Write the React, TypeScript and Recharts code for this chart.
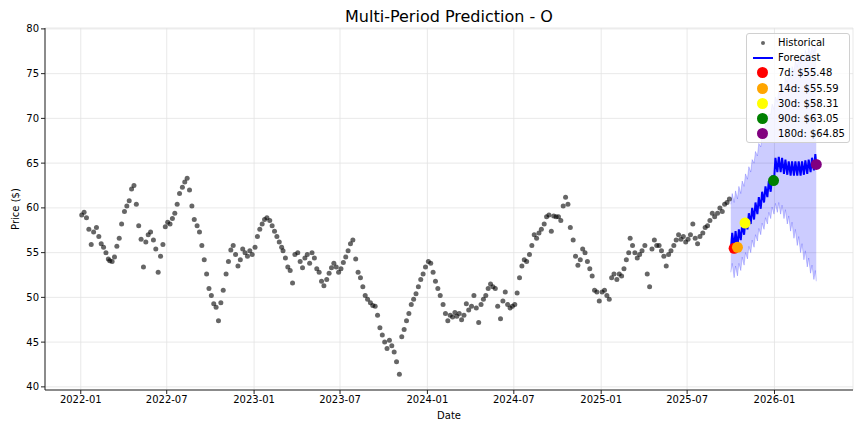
import React from "react";
import { ComposedChart, Scatter, Line, Area, XAxis, YAxis, CartesianGrid } from "recharts";

// historical closes, sampled on these days of each month
const histSampleDays = [3, 8, 13, 18, 23, 28];
const histMonths = [
  "2022-01", "2022-02", "2022-03", "2022-04", "2022-05", "2022-06", "2022-07", "2022-08", "2022-09", "2022-10", "2022-11", "2022-12",
  "2023-01", "2023-02", "2023-03", "2023-04", "2023-05", "2023-06", "2023-07", "2023-08", "2023-09", "2023-10", "2023-11", "2023-12",
  "2024-01", "2024-02", "2024-03", "2024-04", "2024-05", "2024-06", "2024-07", "2024-08", "2024-09", "2024-10", "2024-11", "2024-12",
  "2025-01", "2025-02", "2025-03", "2025-04", "2025-05", "2025-06", "2025-07", "2025-08", "2025-09",
];
const histValues = [
  [59.2, 59.5, 58.9, 57.6, 55.9, 57.3], [57.8, 56.8, 56.0, 55.6, 55.0, 54.3], [54.1, 54.0, 54.5, 55.7, 56.6, 58.2],
  [59.6, 60.2, 60.8, 62.1, 62.5, 60.4], [58.0, 56.5, 53.4, 56.2, 57.0, 57.3], [56.4, 55.4, 52.8, 54.6, 55.9, 57.9],
  [58.4, 58.2, 58.8, 59.4, 60.4, 61.6], [62.3, 62.9, 63.3, 62.0, 60.2, 58.7], [58.0, 57.3, 55.8, 54.2, 52.6, 51.0],
  [50.2, 49.3, 48.9, 47.4, 49.4, 50.8], [52.6, 54.0, 55.3, 55.8, 54.8, 53.5], [54.2, 55.4, 55.0, 54.6, 55.2, 54.8],
  [55.6, 56.8, 57.6, 58.2, 58.7, 58.9], [58.6, 58.0, 57.4, 56.8, 56.2, 55.6], [55.2, 54.4, 53.4, 53.0, 51.6, 54.8],
  [55.0, 54.0, 53.3, 54.4, 54.8, 53.8], [55.0, 54.4, 53.2, 52.8, 51.8, 51.3], [52.0, 52.7, 53.3, 53.8, 53.4, 52.8],
  [53.2, 53.9, 54.5, 55.2, 56.0, 56.4], [54.3, 52.8, 52.2, 51.2, 50.2, 49.8], [49.4, 49.1, 49.0, 48.0, 46.6, 45.8],
  [45.0, 44.3, 45.2, 44.6, 43.9, 42.8], [41.4, 45.6, 46.4, 47.4, 48.2, 49.2], [49.8, 50.4, 51.2, 52.0, 52.6, 53.4],
  [54.0, 53.8, 52.8, 51.8, 51.0, 50.2], [49.2, 48.2, 47.4, 48.0, 47.8, 48.3], [47.9, 48.2, 47.5, 48.0, 49.3, 48.6],
  [49.0, 50.2, 48.8, 47.2, 49.2, 49.8], [50.2, 51.0, 51.5, 51.2, 51.0, 49.0], [47.6, 49.6, 50.6, 49.2, 48.8, 49.0],
  [49.2, 50.5, 52.2, 53.5, 54.2, 54.0], [54.8, 55.8, 57.0, 56.6, 57.2, 57.6], [58.2, 59.0, 59.2, 57.4, 59.1, 59.0],
  [59.0, 58.6, 60.2, 61.2, 60.4, 57.8], [56.4, 54.6, 53.6, 54.2, 55.4, 55.0], [54.0, 53.2, 52.4, 50.8, 50.6, 49.6],
  [50.6, 50.8, 50.2, 49.8, 52.2, 52.6], [52.0, 52.6, 52.4, 53.2, 54.2, 55.0], [56.6, 55.8, 55.0, 54.4, 54.8, 55.2],
  [55.8, 52.6, 51.2, 55.4, 56.4, 55.8], [55.8, 55.2, 54.6, 53.5, 54.8, 55.2], [55.8, 56.4, 57.0, 56.5, 56.8, 56.2],
  [56.5, 57.0, 58.2, 56.6, 56.0, 56.8], [57.2, 57.8, 58.0, 58.6, 59.4, 59.0], [59.4, 60.0, 59.6, 60.4, 60.6, 61.0],
];

// forecast, days after forecastStart
const forecastStart = "2025-10-01";
const fcDays = [
  0, 3, 7, 10, 14, 17, 21, 24, 28, 31, 35, 38, 42, 45, 49, 52, 56, 59, 63, 66, 70, 73, 77, 80, 84, 87,
  91, 94, 98, 101, 105, 108, 112, 115, 119, 122, 126, 129, 133, 136, 140, 143, 147, 150, 154, 157, 161, 164, 168, 171, 175, 178, 180,
];
const fcValues = [
  55.3, 57.2, 55.5, 57.4, 55.6, 57.6, 56.4, 58.2, 57.0, 58.8, 57.6, 59.4, 58.2, 60.0, 58.7, 60.6, 59.3, 61.2, 59.9, 61.8, 60.6, 62.4, 61.2, 63.0, 61.8, 63.6,
  63.0, 65.6, 64.0, 65.7, 64.0, 65.6, 63.8, 65.4, 63.7, 65.2, 63.6, 65.2, 63.6, 65.2, 63.6, 65.2, 63.6, 65.2, 63.7, 65.3, 63.8, 65.4, 64.0, 65.6, 64.2, 66.0, 64.85,
];
const bandLow = [
  52.8, 53.8, 52.2, 53.5, 52.4, 53.8, 53.0, 54.5, 53.6, 55.0, 54.3, 55.7, 55.0, 56.4, 55.6, 57.0, 56.3, 57.7, 57.0, 58.3, 57.6, 58.9, 58.2, 59.5, 58.8, 60.1,
  59.3, 60.5, 59.5, 60.6, 59.3, 60.3, 58.8, 59.8, 58.2, 59.1, 57.4, 58.4, 56.6, 57.6, 55.8, 56.8, 55.0, 56.0, 54.2, 55.2, 53.4, 54.4, 52.7, 53.6, 52.0, 53.0, 51.8,
];
const bandHigh = [
  60.4, 61.6, 60.6, 61.9, 61.0, 62.4, 61.6, 63.0, 62.4, 63.8, 63.2, 64.6, 64.0, 65.4, 65.0, 66.3, 65.8, 67.2, 66.8, 68.3, 68.0, 69.4, 69.2, 70.5, 70.4, 71.6,
  71.0, 72.4, 71.8, 73.1, 72.6, 73.9, 73.4, 74.6, 74.0, 75.2, 74.6, 75.8, 75.2, 76.4, 75.7, 76.9, 76.1, 77.3, 76.5, 77.6, 76.8, 77.9, 77.1, 78.1, 77.4, 78.2, 77.6,
];

const horizonDays = [7, 14, 30, 90, 180];
const horizonValues = [55.48, 55.59, 58.31, 63.05, 64.85];
const horizonColors = ["#ff0000", "#ffa500", "#ffff00", "#008000", "#800080"];

const xTickLabels = ["2022-01", "2022-07", "2023-01", "2023-07", "2024-01", "2024-07", "2025-01", "2025-07", "2026-01"];
const yTicks = [40, 45, 50, 55, 60, 65, 70, 75, 80];

const toDay = (s: string) => {
  const [y, m, d] = s.split("-").map(Number);
  return Date.UTC(y, m - 1, d || 1) / 86400000;
};
const fmtMonth = (v: number) => new Date(v * 86400000).toISOString().slice(0, 7);

const historical = histMonths.flatMap((m, i) =>
  histValues[i].map((v, k) => ({ x: toDay(`${m}-${String(histSampleDays[k]).padStart(2, "0")}`), y: v }))
);
const fcStart = toDay(forecastStart);
const forecast = fcDays.map((d, i) => ({ x: fcStart + d, y: fcValues[i], band: [bandLow[i], bandHigh[i]] }));
const markers = horizonDays.map((d, i) => ({
  x: fcStart + d,
  y: horizonValues[i],
  color: horizonColors[i],
  name: `${d}d: $${horizonValues[i].toFixed(2)}`,
}));

const xFirst = historical[0].x;
const xLast = forecast[forecast.length - 1].x;
const xPad = (xLast - xFirst) * 0.05;
const xDomain = [xFirst - xPad, xLast + xPad];
const xTicks = xTickLabels.map(toDay);

const font = "DejaVu Sans, sans-serif";

function LegendBox() {
  const row = { display: "flex", alignItems: "center", height: 15.2 } as const;
  const sym = { width: 31, display: "flex", justifyContent: "center", alignItems: "center" } as const;
  return (
    <div
      style={{
        position: "absolute",
        left: 746,
        top: 33,
        width: 102,
        padding: "1px 0",
        background: "rgba(255,255,255,0.8)",
        border: "1px solid #d0d0d0",
        borderRadius: 3,
        fontFamily: font,
        fontSize: 10,
        color: "#000",
      }}
    >
      <div style={row}>
        <div style={sym}>
          <div style={{ width: 4, height: 4, borderRadius: 2, background: "rgba(0,0,0,0.6)" }} />
        </div>
        <span>Historical</span>
      </div>
      <div style={row}>
        <div style={sym}>
          <div style={{ width: 20, height: 2, background: "#0000ff" }} />
        </div>
        <span>Forecast</span>
      </div>
      {markers.map((m) => (
        <div style={row} key={m.name}>
          <div style={sym}>
            <div style={{ width: 11, height: 11, borderRadius: 6, background: m.color }} />
          </div>
          <span>{m.name}</span>
        </div>
      ))}
    </div>
  );
}

export default function App() {
  return (
    <div style={{ position: "absolute", left: 0, top: 0, width: 864, height: 432, background: "#fff" }}>
      <div
        style={{
          position: "absolute",
          left: 45,
          top: 7,
          width: 808,
          textAlign: "center",
          fontFamily: font,
          fontSize: 16,
          lineHeight: "20px",
          color: "#000",
        }}
      >
        Multi-Period Prediction - O
      </div>
      <ComposedChart width={864} height={432} margin={{ top: 28, right: 11, bottom: 0, left: 0 }}>
        <CartesianGrid stroke="#e3e3e3" strokeWidth={0.8} />
        <XAxis
          type="number"
          dataKey="x"
          domain={xDomain}
          ticks={xTicks}
          tickFormatter={fmtMonth}
          allowDataOverflow
          height={42}
          stroke="#222"
          tickSize={4}
          tick={{ fill: "#000", fontSize: 10, fontFamily: font }}
          label={{ value: "Date", position: "insideBottom", offset: 13, style: { fontSize: 10, fontFamily: font, fill: "#000" } }}
        />
        <XAxis xAxisId="top" orientation="top" type="number" domain={[0, 1]} height={0} tick={false} tickLine={false} stroke="#222" />
        <YAxis
          type="number"
          domain={[39.65, 80.1]}
          ticks={yTicks}
          allowDataOverflow
          width={45}
          stroke="#222"
          tickSize={4}
          tick={{ fill: "#000", fontSize: 10, fontFamily: font }}
          label={{
            value: "Price ($)",
            angle: -90,
            position: "insideLeft",
            offset: 15,
            style: { fontSize: 10, fontFamily: font, fill: "#000", textAnchor: "middle" },
          }}
        />
        <YAxis yAxisId="right" orientation="right" type="number" domain={[0, 1]} width={0} tick={false} tickLine={false} stroke="#222" />
        <Area
          data={forecast}
          dataKey="band"
          type="linear"
          fill="#0000ff"
          fillOpacity={0.2}
          stroke="#0000ff"
          strokeOpacity={0.2}
          strokeWidth={1}
          isAnimationActive={false}
        />
        <Scatter
          data={historical}
          dataKey="y"
          isAnimationActive={false}
          shape={(p: any) => <circle cx={p.cx} cy={p.cy} r={2.5} fill="#000" fillOpacity={0.6} />}
        />
        <Line data={forecast} dataKey="y" type="linear" stroke="#0000ff" strokeWidth={2} dot={false} isAnimationActive={false} />
        <Scatter
          data={markers}
          dataKey="y"
          isAnimationActive={false}
          shape={(p: any) => <circle cx={p.cx} cy={p.cy} r={5.5} fill={p.payload.color} />}
        />
      </ComposedChart>
      <LegendBox />
    </div>
  );
}
